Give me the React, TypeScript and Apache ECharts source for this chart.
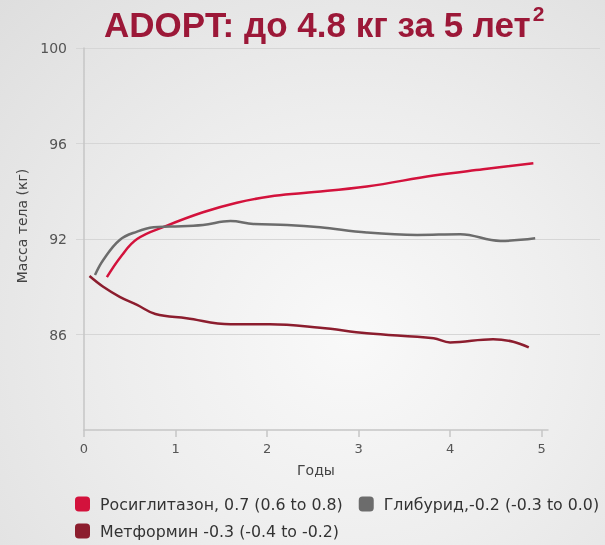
import React, { useEffect, useRef } from "react";
import * as echarts from "echarts";

// Follow-up years and body mass (kg) for the three treatment arms
const rosiYears = [0.25, 0.4, 0.58, 0.9, 1.3, 1.67, 2.03, 2.4, 3.09, 3.82, 4.36, 4.91];
const rosiKg = [90.4, 91.25, 92.0, 92.55, 93.12, 93.52, 93.78, 93.93, 94.2, 94.66, 94.92, 95.17];

const glibYears = [0.12, 0.21, 0.39, 0.58, 0.76, 0.94, 1.3, 1.6, 1.85, 2.22, 2.58, 3.09, 3.64, 4.11, 4.55, 4.93];
const glibKg = [90.49, 91.12, 91.96, 92.31, 92.49, 92.52, 92.59, 92.75, 92.63, 92.59, 92.49, 92.27, 92.17, 92.2, 91.92, 92.03];

const metYears = [0.06, 0.21, 0.39, 0.58, 0.78, 1.12, 1.6, 2.03, 2.58, 3.09, 3.82, 4.0, 4.47, 4.69, 4.86];
const metKg = [90.45, 90.0, 89.58, 89.24, 88.86, 88.68, 88.43, 88.43, 88.28, 88.05, 87.84, 87.67, 87.8, 87.7, 87.46];

const seriesNames = [
  "Росиглитазон, 0.7 (0.6 to 0.8)",
  "Глибурид,-0.2 (-0.3 to 0.0)",
  "Метформин -0.3 (-0.4 to -0.2)",
];
const seriesColors = ["#d3123c", "#6c6c6c", "#8c1d2e"];

// Y tick positions and the labels printed at them
const yTickValues = [88, 92, 96, 100];
const yTickLabels = ["86", "92", "96", "100"];

const FONT = "DejaVu Sans";

const pairs = (xs: number[], ys: number[]) => xs.map((x, i) => [x, ys[i]]);

export default function App() {
  const ref = useRef<HTMLDivElement>(null);

  useEffect(() => {
    if (!ref.current) return;
    const chart = echarts.init(ref.current, null, { renderer: "svg" });

    const lineSeries = [
      pairs(rosiYears, rosiKg),
      pairs(glibYears, glibKg),
      pairs(metYears, metKg),
    ].map((data, i) => ({
      name: seriesNames[i],
      type: "line",
      xAxisIndex: 1,
      yAxisIndex: 1,
      data,
      smooth: 0.4,
      showSymbol: false,
      color: seriesColors[i],
      lineStyle: { width: 2.5, color: seriesColors[i] },
    }));

    const legendText = { fontFamily: FONT, fontSize: 15.8, color: "#333", padding: [0, 0, 0, 5] };

    chart.setOption({
      animation: false,
      backgroundColor: "transparent",
      title: {
        text: "{m|ADOPT: до 4.8 кг за 5 лет}{s|2}",
        left: 99,
        top: -5,
        textStyle: {
          rich: {
            m: {
              fontFamily: "Liberation Sans",
              fontWeight: "bold",
              fontSize: 35,
              color: "#9c1838",
              lineHeight: 48,
            },
            s: {
              fontFamily: "Liberation Sans",
              fontWeight: "bold",
              fontSize: 21,
              color: "#9c1838",
              verticalAlign: "top",
              padding: [3, 0, 0, 2],
            },
          },
        },
      },
      grid: [
        // wide grid carrying the horizontal guide lines
        { left: 76, right: 5, top: 48, bottom: 115 },
        // plotting grid
        { left: 84, right: 57, top: 48, bottom: 115 },
      ],
      xAxis: [
        { gridIndex: 0, type: "value", min: 0, max: 1, show: false },
        {
          gridIndex: 1,
          type: "value",
          min: 0,
          max: 5.07,
          interval: 1,
          name: "Годы",
          nameLocation: "middle",
          nameGap: 33,
          nameTextStyle: { fontFamily: FONT, fontSize: 14, color: "#444" },
          axisLine: { show: true, lineStyle: { color: "#c6c6c6", width: 1.5 } },
          axisTick: { show: true, length: 7, lineStyle: { color: "#c6c6c6", width: 1.5 } },
          splitLine: { show: false },
          axisLabel: {
            margin: 12,
            fontFamily: FONT,
            fontSize: 13,
            color: "#555",
            showMaxLabel: false,
            formatter: (v: number) => (Number.isInteger(v) ? String(v) : ""),
          },
        },
      ],
      yAxis: [
        {
          gridIndex: 0,
          type: "value",
          min: 84,
          max: 100,
          interval: 4,
          axisLine: { show: false },
          axisTick: { show: false },
          axisLabel: { show: false },
          splitLine: {
            show: true,
            lineStyle: { color: "#d6d6d6", width: 1 },
            showMinLine: false,
          },
        },
        {
          gridIndex: 1,
          type: "value",
          min: 84,
          max: 100,
          interval: 4,
          name: "Масса тела (кг)",
          nameLocation: "middle",
          nameGap: 53,
          nameTextStyle: {
            fontFamily: FONT,
            fontSize: 14,
            color: "#444",
            padding: [0, 0, 0, 26],
          },
          axisLine: { show: true, lineStyle: { color: "#c6c6c6", width: 1.5 } },
          axisTick: { show: false },
          splitLine: { show: false },
          axisLabel: {
            margin: 17,
            fontFamily: FONT,
            fontSize: 14,
            color: "#555",
            formatter: (v: number) => {
              const k = yTickValues.indexOf(v);
              return k >= 0 ? yTickLabels[k] : "";
            },
          },
        },
      ],
      legend: [
        {
          data: [seriesNames[0], seriesNames[1]],
          left: 75,
          top: 496,
          padding: 0,
          icon: "roundRect",
          itemWidth: 15,
          itemHeight: 15,
          itemGap: 16,
          textStyle: legendText,
        },
        {
          data: [seriesNames[2]],
          left: 75,
          top: 523,
          padding: 0,
          icon: "roundRect",
          itemWidth: 15,
          itemHeight: 15,
          textStyle: legendText,
        },
      ],
      series: lineSeries,
    });

    return () => chart.dispose();
  }, []);

  return (
    <div
      style={{
        position: "fixed",
        left: 0,
        top: 0,
        width: 605,
        height: 545,
        background:
          "radial-gradient(ellipse at 58% 62%, #f9f9f9 0%, #eeeeee 45%, #dedede 100%)",
      }}
    >
      <div ref={ref} style={{ width: 605, height: 545 }} />
    </div>
  );
}
